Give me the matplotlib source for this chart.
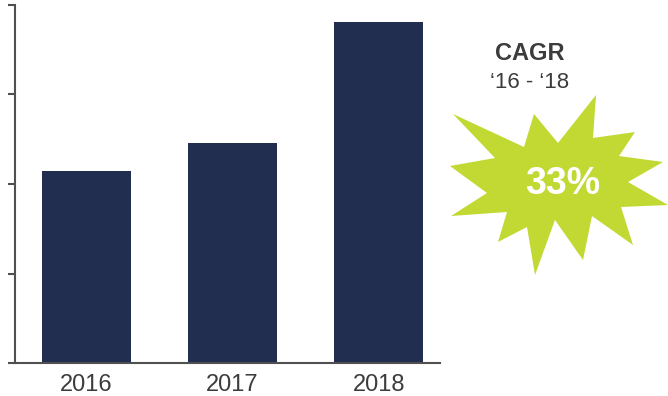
import matplotlib
matplotlib.use("Agg")
import matplotlib.pyplot as plt
from matplotlib.patches import Polygon

plt.rcParams['font.family'] = ['Liberation Sans', 'DejaVu Sans']

# data (no axis labels in the original)
years = ["2016", "2017", "2018"]
values = [2.15, 2.46, 3.81]
cagr_text = "33%"

bar_color = "#222e50"
axis_color = "#505050"
text_color = "#3c3c3c"
star_color = "#c1d932"

W, H = 668, 396
fig = plt.figure(figsize=(W / 100, H / 100), dpi=100)
ax = fig.add_axes([15 / W, 33 / H, 425 / W, 358 / H])

x = list(range(len(years)))
ax.bar(x, values, width=0.61, color=bar_color)
ax.set_xlim(-0.49, 2.42)
ax.set_ylim(0, 4)
ax.set_xticks(x)
ax.set_xticklabels(years, fontsize=17, color=text_color)
ax.set_yticks([0, 1, 2, 3, 4])
ax.set_yticklabels([])
ax.tick_params(axis='y', direction='out', length=5, width=1.5, color=axis_color)
ax.tick_params(axis='x', length=0, pad=8)
for s in ['top', 'right']:
    ax.spines[s].set_visible(False)
for s in ['left', 'bottom']:
    ax.spines[s].set_color(axis_color)
    ax.spines[s].set_linewidth(1.5)

# starburst, outline in pixel coords (from top-left, clockwise)
star_px = [
    (453, 114), (524, 147), (534, 114), (558, 143), (596, 95), (593, 138),
    (635, 132), (619, 156), (663, 162), (628, 182), (668, 205), (621, 207),
    (633, 245), (592, 216), (583, 260), (555, 220), (535, 275), (527, 227),
    (498, 242), (507, 212), (451, 216), (487, 193), (450, 166), (495, 158),
]
star = Polygon([(px / W, 1 - py / H) for px, py in star_px], closed=True,
               transform=fig.transFigure, facecolor=star_color, edgecolor='none')
fig.patches.append(star)

fig.text(563 / W, 1 - 184 / H, cagr_text, ha='center', va='center',
         fontsize=27, fontweight='bold', color='white')
fig.text(530 / W, 1 - 53 / H, "CAGR", ha='center', va='center',
         fontsize=17, fontweight='bold', color=text_color)
fig.text(530 / W, 1 - 82 / H, "\u201816 - \u201818", ha='center', va='center',
         fontsize=16, color=text_color)

fig.savefig("out.png", dpi=100)
